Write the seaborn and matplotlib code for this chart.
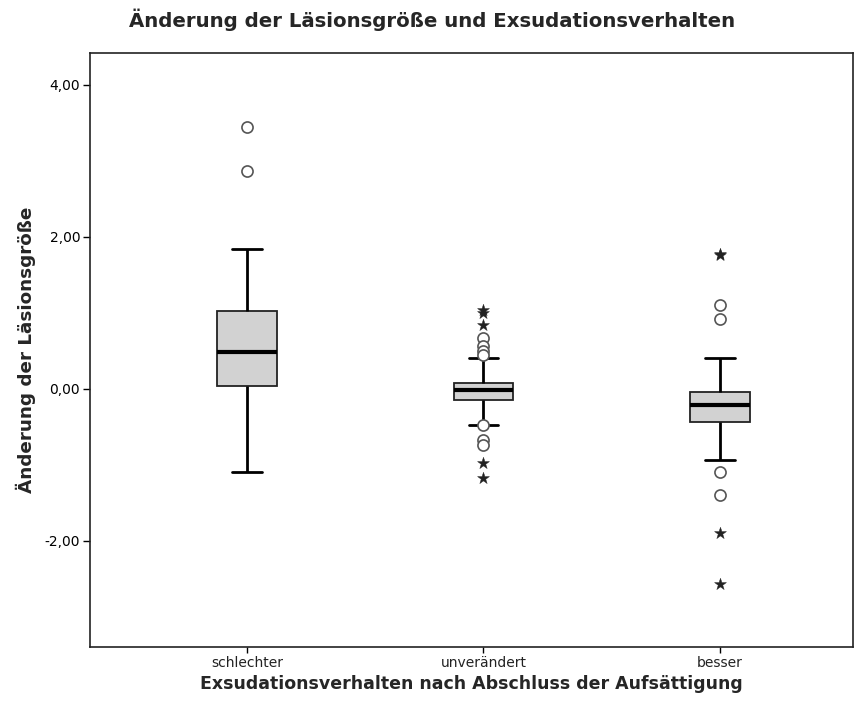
import numpy as np
import pandas as pd
import matplotlib
matplotlib.use("Agg")
import matplotlib.pyplot as plt
import seaborn as sns

categories = ["schlechter", "unverändert", "besser"]
# five-number summaries: lower whisker, Q1, median, Q3, upper whisker
whisker_low = [-1.09, -0.47, -0.94]
q1 = [0.04, -0.14, -0.43]
median = [0.49, -0.01, -0.21]
q3 = [1.03, 0.08, -0.04]
whisker_high = [1.84, 0.41, 0.41]

# outliers (circles) and extreme values (stars)
circle_cat = ["schlechter", "schlechter",
              "unverändert", "unverändert", "unverändert", "unverändert",
              "unverändert", "unverändert", "unverändert",
              "besser", "besser", "besser", "besser"]
circle_val = [3.44, 2.87,
              0.67, 0.56, 0.50, 0.45,
              -0.47, -0.67, -0.74,
              1.10, 0.92, -1.09, -1.40]
star_cat = ["unverändert", "unverändert", "unverändert", "unverändert", "unverändert",
            "besser", "besser", "besser", "besser"]
star_val = [1.04, 1.00, 0.84, -0.97, -1.17,
            1.78, 1.76, -1.89, -2.57]

yticks = [-2, 0, 2, 4]
ytick_labels = ["-2,00", "0,00", "2,00", "4,00"]

sns.set_style("white")
plt.rcParams["font.family"] = ["DejaVu Sans"]

rows = []
for i, c in enumerate(categories):
    for v in (whisker_low[i], q1[i], median[i], q3[i], whisker_high[i]):
        rows.append({"cat": c, "val": v})
box_df = pd.DataFrame(rows)
circ_df = pd.DataFrame({"cat": circle_cat, "val": circle_val})
star_df = pd.DataFrame({"cat": star_cat, "val": star_val})

fig = plt.figure(figsize=(8.65, 7.13), dpi=100)
ax = fig.add_axes([0.104, 0.093, 0.882, 0.833])

sns.boxplot(data=box_df, x="cat", y="val", order=categories, ax=ax,
            whis=np.inf, width=0.25, color="#d2d2d2", linecolor="black",
            boxprops=dict(linewidth=1.3, edgecolor="#222222", facecolor="#d2d2d2"),
            medianprops=dict(linewidth=3, color="black"),
            whiskerprops=dict(linewidth=2, color="black"),
            capprops=dict(linewidth=2, color="black"),
            showfliers=False)

sns.stripplot(data=circ_df, x="cat", y="val", order=categories, ax=ax,
              jitter=False, marker="o", size=8, color="white",
              edgecolor="#555555", linewidth=1.2, zorder=5)
sns.stripplot(data=star_df, x="cat", y="val", order=categories, ax=ax,
              jitter=False, marker="*", size=9, color="#222222",
              edgecolor="#222222", linewidth=0.3, zorder=5)

ax.set_xlim(-0.664, 2.562)
ax.set_ylim(-3.39, 4.42)
ax.set_yticks(yticks)
ax.set_yticklabels(ytick_labels, fontsize=10, color="#222222")
ax.tick_params(axis="x", labelsize=10, length=4, width=1, direction="out",
               bottom=True, colors="black", labelcolor="#222222", pad=3)
ax.tick_params(axis="y", length=5, width=1, direction="out", left=True,
               colors="black", pad=2)
for s in ax.spines.values():
    s.set_color("#222222")
    s.set_linewidth(1.2)

ax.set_xlabel("Exsudationsverhalten nach Abschluss der Aufsättigung",
              fontsize=12.5, fontweight="bold", labelpad=3)
ax.set_ylabel("Änderung der Läsionsgröße", fontsize=13.2, fontweight="bold", labelpad=6)
fig.suptitle("Änderung der Läsionsgröße und Exsudationsverhalten",
             fontsize=14.2, fontweight="bold", y=0.988)

fig.savefig("out.png", dpi=100)
